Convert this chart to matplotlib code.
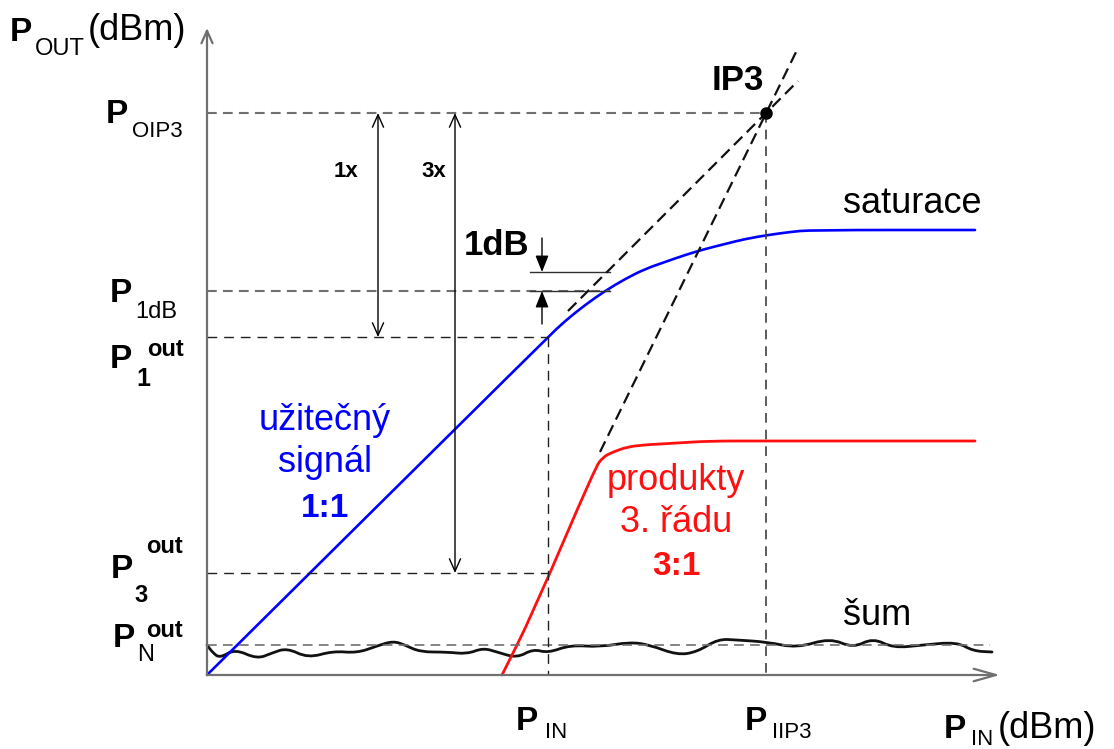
import matplotlib
matplotlib.use("Agg")
import matplotlib.pyplot as plt
from matplotlib.path import Path
from matplotlib.patches import PathPatch

plt.rcParams["font.family"] = ["Liberation Sans", "DejaVu Sans"]
plt.rcParams["lines.scale_dashes"] = False

# the sketch lives in picture units: x to the right, y downward
origin = (207, 675)
x_axis_end = 1000
y_axis_end = 28

# output levels (y) and input levels (x)
y_oip3 = 113
y_1db_top = 272
y_1db = 291
y_p1 = 337
y_p3 = 573
y_pn = 645
x_pin = 548
x_iip3 = 766

# useful signal (1:1) with compression
signal_x = [207, 548, 565, 585, 605, 625, 645, 665, 685, 705, 725, 745, 768, 790, 810, 975]
signal_y = [675, 337, 321, 305, 291, 279, 269, 262, 255, 249, 244, 239, 235, 232, 230, 230]

# 3rd order products (3:1)
im3_x = [502, 532, 595, 603, 613, 627, 643, 660, 677, 710, 760, 975]
im3_y = [675, 615, 468, 457, 452, 447, 445, 444, 443, 441, 441, 441]

# extrapolated lines through IP3
ext1_x = [568, 798]
ext1_y = [311, 81]
ext3_x = [600, 798]
ext3_y = [452, 48]

# noise floor
noise_x = [207, 213, 220, 235, 257, 272, 287, 308, 333, 357, 377, 393, 405, 420, 447,
           467, 483, 497, 517, 533, 548, 570, 600, 630, 650, 677, 697, 718, 737, 767,
           797, 830, 853, 873, 893, 923, 957, 973, 992]
noise_y = [645, 653, 658, 649, 659, 653, 648, 658, 651, 653, 646, 641, 645, 652, 652,
           654, 648, 652, 658, 649, 653, 645, 647, 642, 645, 655, 652, 639, 640, 642,
           648, 638, 648, 638, 648, 645, 642, 651, 652]

fig = plt.figure(figsize=(11.14, 7.49), dpi=100)
ax = fig.add_axes([0, 0, 1, 1])
ax.set_xlim(0, 1114)
ax.set_ylim(749, 0)
ax.axis("off")

gray = "#707070"
blue = "#0000ff"
red = "#ff1010"


def smooth(xs, ys, **kw):
    # quadratic b-spline through the midpoints, the read points act as control points
    pts = list(zip(xs, ys))
    verts = [pts[0]]
    codes = [Path.MOVETO]
    mids = [((a[0] + b[0]) / 2, (a[1] + b[1]) / 2) for a, b in zip(pts[:-1], pts[1:])]
    verts.append(mids[0])
    codes.append(Path.LINETO)
    for i in range(1, len(pts) - 1):
        verts += [pts[i], mids[i]]
        codes += [Path.CURVE3, Path.CURVE3]
    verts.append(pts[-1])
    codes.append(Path.LINETO)
    ax.add_patch(PathPatch(Path(verts, codes), fill=False, capstyle="round",
                           joinstyle="round", **kw))


# axes with open arrow heads
ax.annotate("", xy=(x_axis_end, origin[1]), xytext=origin,
            arrowprops=dict(arrowstyle="->,head_length=1.6,head_width=0.45",
                            color=gray, lw=1.6, shrinkA=0, shrinkB=0))
ax.annotate("", xy=(origin[0], y_axis_end), xytext=origin,
            arrowprops=dict(arrowstyle="->,head_length=0.9,head_width=0.4",
                            color=gray, lw=1.6, shrinkA=0, shrinkB=0))

# guide lines
ax.plot([origin[0], x_iip3], [y_oip3, y_oip3], color=gray, lw=1.5, ls=(0, (7, 4.5)))
ax.plot([origin[0], 610], [y_1db, y_1db], color=gray, lw=1.5, ls=(0, (7, 4.5)))
ax.plot([origin[0], 990], [y_pn, y_pn], color=gray, lw=1.2, ls=(0, (7, 4.5)))
ax.plot([origin[0], x_pin], [y_p1, y_p1], color="#202020", lw=1.0, ls=(0, (7, 5)))
ax.plot([origin[0], x_pin], [y_p3, y_p3], color="#202020", lw=1.0, ls=(0, (7, 5)))
ax.plot([x_pin, x_pin], [y_p1, origin[1]], color="#202020", lw=1.0, ls=(0, (7, 5)))
ax.plot([x_iip3, x_iip3], [y_oip3, origin[1]], color="#404040", lw=1.2, ls=(0, (7, 5)))

# 1 dB marker
ax.plot([530, 610], [y_1db_top, y_1db_top], color="#303030", lw=1.0)
ax.plot([530, 610], [y_1db, y_1db], color="#303030", lw=1.0)
ax.annotate("", xy=(542, y_1db_top), xytext=(542, 238),
            arrowprops=dict(arrowstyle="-|>,head_length=1.0,head_width=0.4",
                            color="black", lw=1.0, shrinkA=0, shrinkB=0))
ax.annotate("", xy=(542, y_1db), xytext=(542, 324),
            arrowprops=dict(arrowstyle="-|>,head_length=1.0,head_width=0.4",
                            color="black", lw=1.0, shrinkA=0, shrinkB=0))

# 1x / 3x spans
ax.annotate("", xy=(378, y_oip3), xytext=(378, y_p1),
            arrowprops=dict(arrowstyle="<->,head_length=0.9,head_width=0.4",
                            color="black", lw=1.0, shrinkA=0, shrinkB=0))
ax.annotate("", xy=(455, y_oip3), xytext=(455, y_p3),
            arrowprops=dict(arrowstyle="<->,head_length=0.9,head_width=0.4",
                            color="black", lw=1.0, shrinkA=0, shrinkB=0))

# curves
smooth(noise_x, noise_y, edgecolor="#111111", lw=2.0)
ax.plot(ext1_x, ext1_y, color="#111111", lw=1.6, ls=(0, (8.5, 4.5)))
ax.plot(ext3_x, ext3_y, color="#111111", lw=1.6, ls=(0, (8.5, 4.5)))
smooth(signal_x, signal_y, edgecolor=blue, lw=1.9)
smooth(im3_x, im3_y, edgecolor=red, lw=2.0)
ax.plot([x_iip3], [y_oip3], "o", color="black", ms=8)


# texts
def put(x, y, s, size, bold=False, color="black", ha="left"):
    ax.text(x, y, s, fontsize=size, fontweight="bold" if bold else "normal",
            color=color, ha=ha, va="baseline")


# P_OUT (dBm)
put(10, 41, "P", 24, True)
put(35, 55, "OUT", 17)
put(88, 40, "(dBm)", 26)
# left labels
put(106, 123, "P", 24, True)
put(132, 137, "OIP3", 16)
put(110, 302, "P", 24, True)
put(135, 318, "1dB", 17)
put(110, 368, "P", 24, True)
put(136, 386, "1", 18, True)
put(147, 356, "out", 17, True)
put(111, 578, "P", 24, True)
put(134, 602, "3", 17, True)
put(146, 553, "out", 17, True)
put(113, 647, "P", 24, True)
put(137, 661, "N", 17)
put(146, 637, "out", 17, True)
# x labels
put(516, 730, "P", 24, True)
put(545, 738, "IN", 16)
put(745, 730, "P", 24, True)
put(772, 738, "IIP3", 16)
put(944, 738, "P", 24, True)
put(971, 745, "IN", 16)
put(998, 738, "(dBm)", 26)

put(712, 90, "IP3", 25, True)
put(464, 255, "1dB", 25, True)
put(334, 177, "1x", 16, True)
put(421, 177, "3x", 16, True)
put(843, 213, "saturace", 26)
put(843, 625, "šum", 26)

put(325, 430, "užitečný", 26, color=blue, ha="center")
put(325, 472, "signál", 26, color=blue, ha="center")
put(325, 517, "1:1", 24, True, color=blue, ha="center")
put(676, 490, "produkty", 26, color=red, ha="center")
put(676, 532, "3. řádu", 26, color=red, ha="center")
put(676, 575, "3:1", 24, True, color=red, ha="center")

fig.savefig("out.png", dpi=100)
